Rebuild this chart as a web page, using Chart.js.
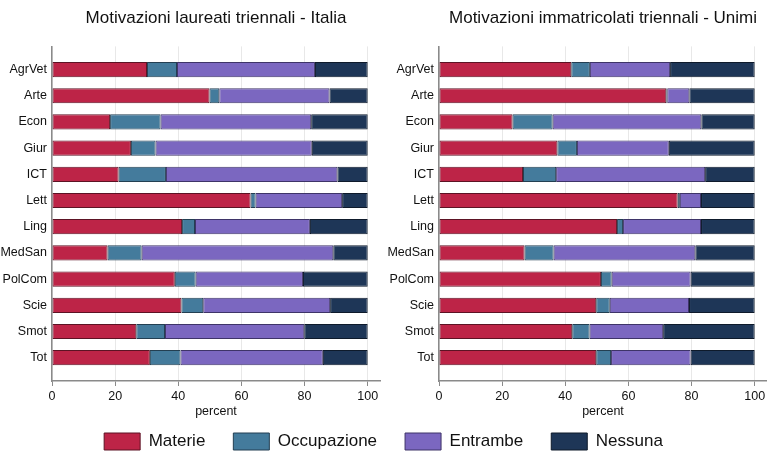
<!DOCTYPE html>
<html><head><meta charset="utf-8">
<script src="https://cdn.jsdelivr.net/npm/chart.js@4"></script>
<style>
html,body{margin:0;padding:0;background:#fff;width:767px;height:454px;overflow:hidden;position:relative}
canvas{position:absolute}
</style></head>
<body>
<canvas id="c1" width="383" height="425" style="left:0;top:0"></canvas>
<canvas id="c2" width="384" height="425" style="left:383px;top:0"></canvas>
<canvas id="c3" width="767" height="160" style="left:0;top:405px"></canvas>
<script>
const categories = ['AgrVet','Arte','Econ','Giur','ICT','Lett','Ling','MedSan','PolCom','Scie','Smot','Tot'];
const seriesNames = ['Materie','Occupazione','Entrambe','Nessuna'];
const xTickValues = [0,20,40,60,80,100];
const titleItalia = 'Motivazioni laureati triennali - Italia';
const titleUnimi = 'Motivazioni immatricolati triennali - Unimi';
const axisTitle = 'percent';

// Italia (laureati)
const materieIt = [30.1, 49.9, 18.4, 25.0, 21.1, 62.9, 41.2, 17.6, 38.9, 41.0, 26.7, 31.0];
const occupIt   = [ 9.5,  3.1, 16.0,  7.8, 15.0,  1.6,  4.1, 10.8,  6.6,  6.9,  9.1,  9.7];
const entrIt    = [43.7, 34.9, 47.7, 49.5, 54.3, 27.4, 36.4, 60.7, 34.0, 40.2, 44.1, 45.1];
const nessIt    = [16.7, 12.1, 17.9, 17.7,  9.6,  8.1, 18.3, 10.9, 20.5, 11.9, 20.1, 14.2];

// Unimi (immatricolati)
const materieUn = [41.9, 72.0, 23.3, 37.5, 26.6, 75.6, 56.4, 27.1, 51.3, 49.8, 42.2, 49.8];
const occupUn   = [ 5.9,  0.3, 12.7,  6.2, 10.5,  0.7,  1.9,  9.2,  3.4,  4.3,  5.5,  4.7];
const entrUn    = [25.4,  7.0, 47.1, 29.1, 47.2,  6.7, 24.7, 44.9, 25.0, 25.1, 23.3, 25.2];
const nessUn    = [26.8, 20.7, 16.9, 27.2, 15.7, 17.0, 17.0, 18.8, 20.3, 20.8, 29.0, 20.3];

const FONT = "'Liberation Sans', Arial, Helvetica, sans-serif";
const fills   = ['#bd2447','#447b9c','#7b67c0','#1e3657'];
const borders = ['#5c1324','#233f52','#3e3468','#0e1a2b'];
const TXT = '#111';
const AXIS = '#8a8a8a';

function toPoints(arr){ return arr.map((v,i)=>({x:v, y:i})); }

function makeChart(id, title, series, yWidth, padRight){
  return new Chart(document.getElementById(id), {
    type: 'bar',
    data: {
      datasets: series.map((s,k)=>({
        label: seriesNames[k], data: toPoints(s),
        backgroundColor: fills[k], borderColor: borders[k], borderWidth: 1,
        borderSkipped: false, stack: 's', barPercentage: 0.58, categoryPercentage: 1
      }))
    },
    options: {
      indexAxis: 'y', responsive: false, animation: false, devicePixelRatio: 1,
      layout: {padding: {left: 0, right: padRight, top: 0, bottom: 0}},
      plugins: {
        legend: {display: false},
        tooltip: {enabled: false},
        title: {display: true, text: title, fullSize: false, color: TXT,
                font: {family: FONT, size: 17, weight: 'normal'}, padding: {top: 8, bottom: 18}}
      },
      scales: {
        x: {
          type: 'linear', stacked: true, min: 0, max: 103.9, offset: false,
          afterBuildTicks: s => { s.ticks = xTickValues.map(v => ({value: v})); },
          afterFit: s => { s.height = 44; s.paddingLeft = 0; s.paddingRight = 0; },
          grid: {color: '#e8e8e8', tickColor: AXIS, tickLength: 5, drawTicks: true, offset: false},
          border: {color: AXIS, width: 1.5},
          ticks: {font: {family: FONT, size: 12.5}, color: TXT, padding: 3, maxRotation: 0},
          title: {display: true, text: axisTitle, color: TXT, font: {family: FONT, size: 12.5}, padding: {top: 0, bottom: 6}}
        },
        y: {
          type: 'linear', reverse: true, min: -0.883, max: 11.89, offset: false,
          afterBuildTicks: s => { s.ticks = categories.map((c,i) => ({value: i})); },
          afterFit: s => { s.width = yWidth; s.paddingTop = 0; s.paddingBottom = 0; },
          grid: {display: false, drawTicks: false, offset: false},
          border: {color: AXIS, width: 1.5},
          ticks: {font: {family: FONT, size: 12.5}, color: TXT, padding: 5, autoSkip: false,
                  callback: v => categories[v]}
        }
      }
    }
  });
}

makeChart('c1', titleItalia, [materieIt, occupIt, entrIt, nessIt], 52, 3);
makeChart('c2', titleUnimi, [materieUn, occupUn, entrUn, nessUn], 56, 0);

new Chart(document.getElementById('c3'), {
  type: 'bar',
  data: {labels: [], datasets: seriesNames.map((l,k)=>({label: l, data: [], backgroundColor: fills[k], borderColor: borders[k], borderWidth: 1}))},
  options: {
    responsive: false, animation: false, devicePixelRatio: 1,
    scales: {x: {display: false}, y: {display: false}},
    plugins: {
      tooltip: {enabled: false},
      legend: {display: true, position: 'top',
        labels: {boxWidth: 36, boxHeight: 17, padding: 28, color: TXT, font: {family: FONT, size: 17}}}
    }
  }
});
</script>
</body></html>
